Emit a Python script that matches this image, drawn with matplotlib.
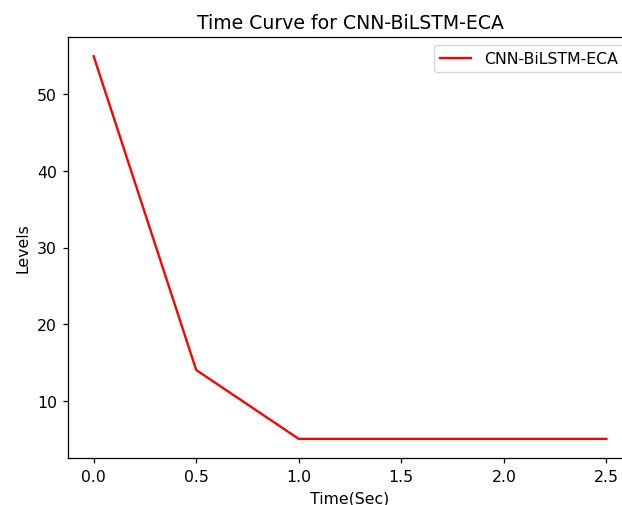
import matplotlib
matplotlib.use("Agg")
import matplotlib.pyplot as plt

# data
time_sec = [0.0, 0.5, 1.0, 1.5, 2.0, 2.5]
levels = [55, 14, 5, 5, 5, 5]
series_name = "CNN-BiLSTM-ECA"

# reference looks like a default 640x480 plot scaled ~1.13x and cropped on the right
s = 1.13

fig = plt.figure(figsize=(6.22, 5.06), dpi=100)
ax = fig.add_axes([68 / 622, (506 - 459) / 506, (632 - 68) / 622, (459 - 38) / 506])

ax.plot(time_sec, levels, color="red", linewidth=1.5 * s, label=series_name)

ax.set_xlim(-0.125, 2.625)
ax.set_ylim(2.5, 57.5)
ax.set_xticks([0.0, 0.5, 1.0, 1.5, 2.0, 2.5])
ax.set_yticks([10, 20, 30, 40, 50])
ax.tick_params(labelsize=10 * s, length=3.5 * s, width=0.8 * s, pad=3.5 * s)
for sp in ax.spines.values():
    sp.set_linewidth(0.8 * s)
# right edge of the axes is cut off in the reference
ax.spines["right"].set_visible(False)

ax.set_title("Time Curve for CNN-BiLSTM-ECA", fontsize=12 * s, pad=6 * s)
ax.set_xlabel("Time(Sec)", fontsize=10 * s, labelpad=4 * s)
ax.set_ylabel("Levels", fontsize=10 * s, labelpad=4 * s)

ax.legend(loc="upper right", fontsize=10 * s)

fig.savefig("out.png", dpi=100)
